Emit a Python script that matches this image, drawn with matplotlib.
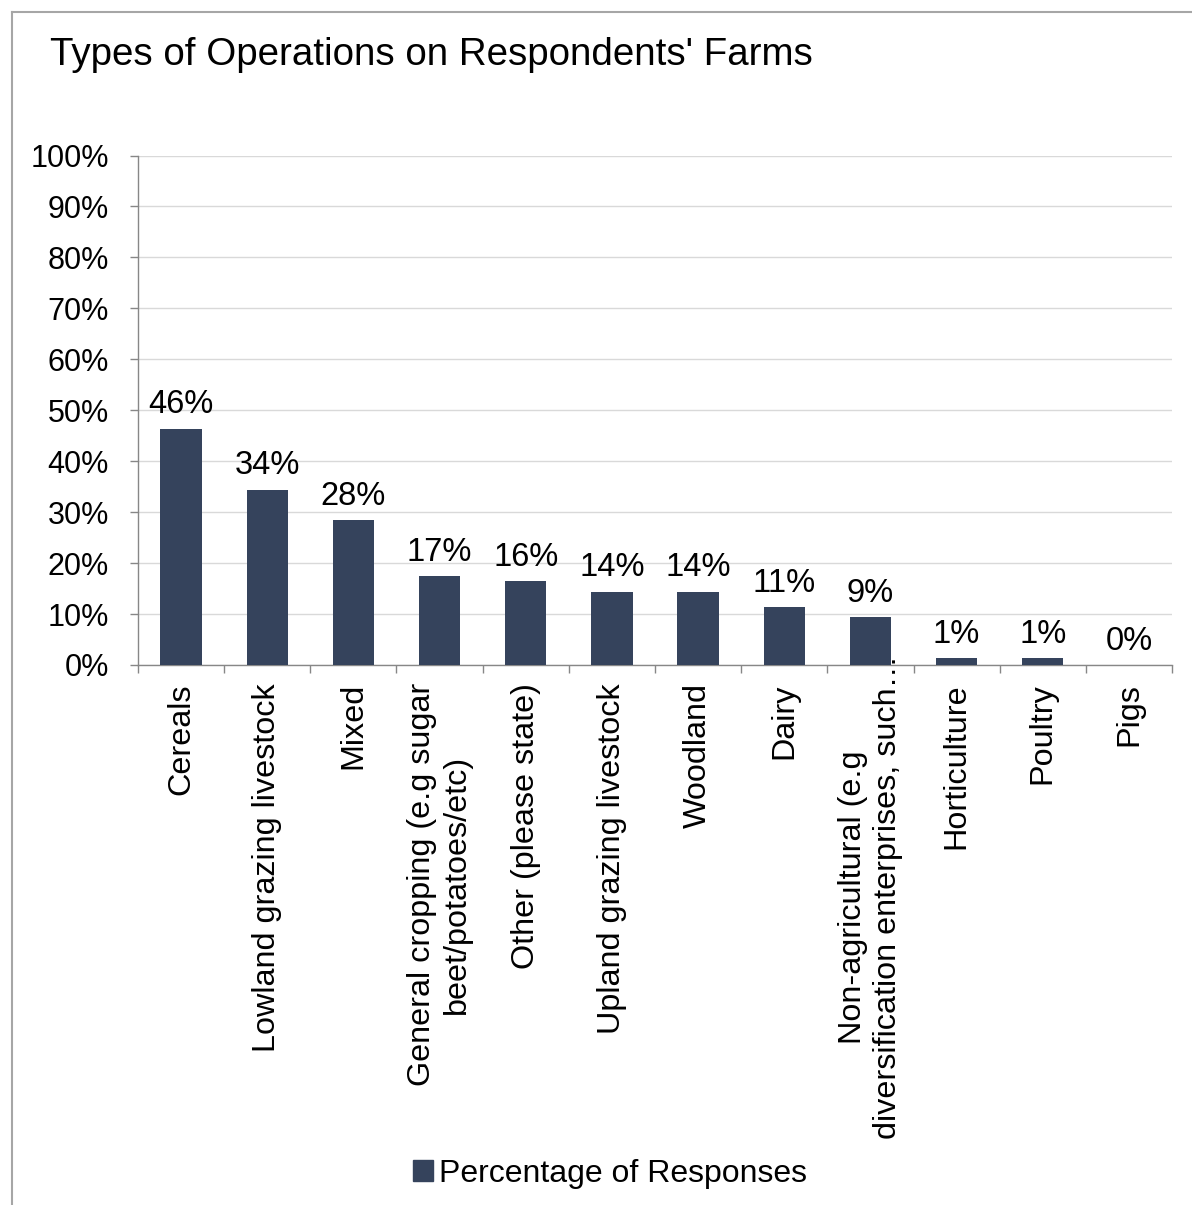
import numpy as np
from matplotlib import pyplot as plt
from matplotlib.patches import Patch
from matplotlib.lines import Line2D

categories = [
    'Cereals',
    'Lowland grazing livestock',
    'Mixed',
    'General cropping (e.g sugar\nbeet/potatoes/etc)',
    'Other (please state)',
    'Upland grazing livestock',
    'Woodland',
    'Dairy',
    'Non-agricultural (e.g\ndiversification enterprises, such…',
    'Horticulture',
    'Poultry',
    'Pigs',
]
responses = [46.4, 34.4, 28.4, 17.4, 16.4, 14.4, 14.4, 11.4, 9.4, 1.4, 1.4, 0.0]
y_ticks = [0, 10, 20, 30, 40, 50, 60, 70, 80, 90, 100]
series_name = 'Percentage of Responses'
title = "Types of Operations on Respondents' Farms"

BAR_COLOR = '#35435c'
AXIS_COLOR = '#878787'
GRID_COLOR = '#d9d9d9'

plt.rcParams['font.family'] = ['Liberation Sans', 'DejaVu Sans']

W, H = 1192, 1205
fig = plt.figure(figsize=(W / 100, H / 100), dpi=100)

# plot area in pixels: x 138..1172, y 155..665
ax_h = 665 - 155.5
ax = fig.add_axes([138 / W, (H - 665) / H, (1172 - 138) / W, ax_h / H])

x = np.arange(len(categories))
ax.bar(x, responses, width=0.48, color=BAR_COLOR, zorder=3)

for xi, v in zip(x, responses):
    ax.annotate('{:.0f}%'.format(v), (xi, v), xytext=(0, 11), textcoords='offset points',
                ha='center', va='baseline', fontsize=23.5, color='black')

ax.set_xlim(-0.5, len(categories) - 0.5)
ax.set_ylim(0, 100)
ax.set_yticks(y_ticks)
ax.set_yticklabels(['{}%'.format(t) for t in y_ticks])
ax.yaxis.grid(True, color=GRID_COLOR, linewidth=1, zorder=0)
ax.set_axisbelow(True)

ax.set_xticks(x)
ax.set_xticklabels(categories, rotation=90, ha='center', va='top', multialignment='center')
ax.set_xticks(np.arange(-0.5, len(categories)), minor=True)
ax.tick_params(axis='x', which='major', length=0, pad=13, labelsize=23.3)
ax.tick_params(axis='x', which='minor', length=6, width=1, color=AXIS_COLOR, direction='out')
ax.tick_params(axis='y', length=6, width=1, color=AXIS_COLOR, pad=15, labelsize=22)

# the truncated label runs longer than the rest, so it pokes up past the axis
ax.get_xticklabels()[8].set_y(28 / ax_h)

for side in ['top', 'right']:
    ax.spines[side].set_visible(False)
for side in ['left', 'bottom']:
    ax.spines[side].set_color(AXIS_COLOR)
    ax.spines[side].set_linewidth(1)

fig.text(50 / W, 1 - 65 / H, title, fontsize=27.7, ha='left', va='baseline')

handle = Patch(facecolor=BAR_COLOR, edgecolor=BAR_COLOR)
fig.legend([handle], [series_name], loc='center', bbox_to_anchor=(610 / W, 1 - 1174 / H),
           frameon=False, fontsize=23, handlelength=0.62, handleheight=0.62,
           handletextpad=0.2, borderaxespad=0)

# chart frame, cut off on the right and bottom
fig.add_artist(Line2D([12 / W, 1], [1 - 12 / H, 1 - 12 / H], color='#a6a6a6', linewidth=1.5))
fig.add_artist(Line2D([12 / W, 12 / W], [0, 1 - 12 / H], color='#a6a6a6', linewidth=1.5))

plt.savefig('out.png', dpi=100)
